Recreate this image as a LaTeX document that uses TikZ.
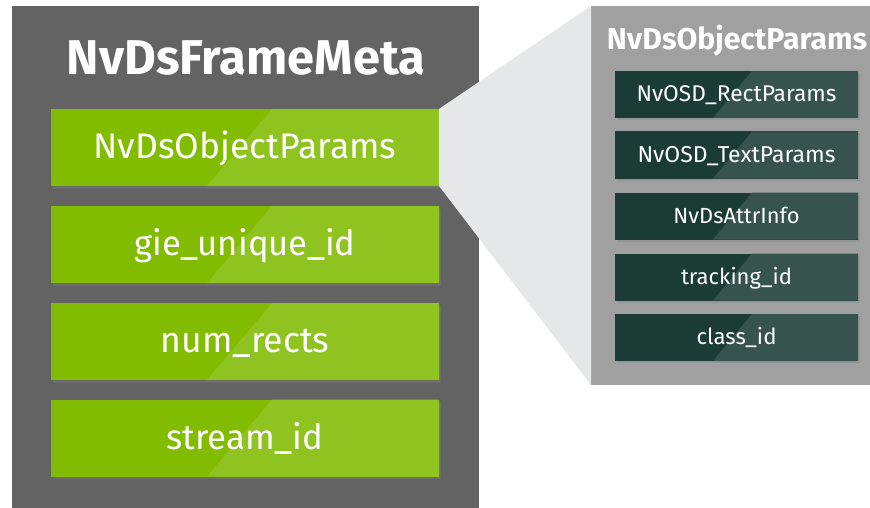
\documentclass[tikz,border=0pt]{standalone}
\usepackage{fontspec}
\setmainfont{Fira Sans}
\usetikzlibrary{shadows}
\definecolor{panel}{HTML}{636363}
\definecolor{callout}{HTML}{E6E7E8}
\definecolor{rpanel}{HTML}{A0A0A0}
\definecolor{greenA}{HTML}{82BC00}
\definecolor{greenB}{HTML}{8FC31F}
\definecolor{tealA}{HTML}{1B3C34}
\definecolor{tealB}{HTML}{36534E}
\newcommand{\fw}[2]{\resizebox{#1}{!}{#2}}
\tikzset{
  greenbox/.style={rectangle, inner sep=0pt, minimum width=388pt, minimum height=77pt,
    fill=greenA, text=white, text height=22pt, text depth=0pt,
    drop shadow={opacity=0.35, shadow xshift=1.5pt, shadow yshift=-2.5pt},
    path picture={\fill[greenB] ([xshift=221pt]path picture bounding box.north west)
      -- (path picture bounding box.north east) -- (path picture bounding box.south east)
      -- ([xshift=156pt]path picture bounding box.south west) -- cycle;}},
  tealbox/.style={rectangle, inner sep=0pt, minimum width=243pt, minimum height=47pt,
    fill=tealA, text=white, text height=14pt, text depth=0pt,
    drop shadow={opacity=0.3, shadow xshift=1.5pt, shadow yshift=-2pt},
    path picture={\fill[tealB] ([xshift=137pt]path picture bounding box.north west)
      -- (path picture bounding box.north east) -- (path picture bounding box.south east)
      -- ([xshift=98pt]path picture bounding box.south west) -- cycle;}},
  title/.style={inner sep=0pt, text=white, anchor=base, font=\bfseries}
}
\begin{document}
\begin{tikzpicture}[x=1pt,y=-1pt]
\useasboundingbox (0,0) rectangle (870,508);
\fill[white] (0,0) rectangle (870,508);
% left panel
\fill[panel] (12,6) rectangle (479,508);
% right panel
\fill[rpanel] (591,6) rectangle (870,385);
% callout
\coordinate (ct) at (591,6);
\coordinate (cb) at (591,385);
\node[title] (ftitle) at (246,75) {\fw{358pt}{NvDsFrameMeta}};
\node[title] (otitle) at (737,50) {\fw{260pt}{NvDsObjectParams}};
\node[greenbox] (g1) at (245,147.5) {\fw{303pt}{NvDsObjectParams}};
\fill[callout] (g1.north east) -- (ct) -- (cb) -- (g1.south east) -- cycle;
\node[greenbox] (g2) at (245,244.5) {\fw{221pt}{gie\_unique\_id}};
\node[greenbox] (g3) at (245,341.5) {\fw{169pt}{num\_rects}};
\node[greenbox] (g4) at (245,438) {\fw{157pt}{stream\_id}};
\node[tealbox] (t1) at (736.5,94.5) {\fw{200pt}{NvOSD\_RectParams}};
\node[tealbox] (t2) at (736.5,155) {\fw{198pt}{NvOSD\_TextParams}};
\node[tealbox] (t3) at (736.5,216) {\fw{126pt}{NvDsAttrInfo}};
\node[tealbox] (t4) at (736.5,277) {\fw{111pt}{tracking\_id}};
\node[tealbox] (t5) at (736.5,337.5) {\fw{80pt}{class\_id}};
\end{tikzpicture}
\end{document}
